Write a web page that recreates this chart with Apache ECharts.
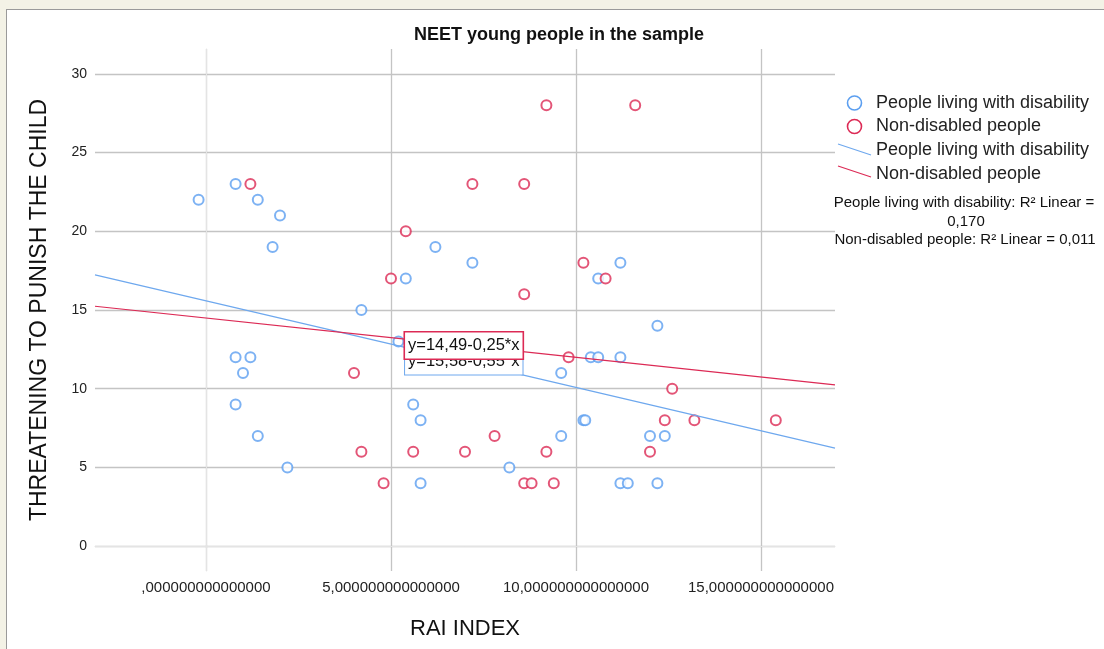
<!DOCTYPE html>
<html>
<head>
<meta charset="utf-8">
<script src="https://cdn.jsdelivr.net/npm/echarts@6/dist/echarts.min.js"></script>
<style>
  html, body { margin: 0; padding: 0; background: #f3f2e6; }
  #frame { position: absolute; left: 6px; top: 9px; width: 1120px; height: 660px;
           background: #fff; border-left: 1px solid #9a9a9a; border-top: 1px solid #9a9a9a; }
  #chart { position: absolute; left: 0; top: 0; width: 1104px; height: 649px; }
</style>
</head>
<body>
<div id="frame"></div>
<div id="chart"></div>
<script>
// RAI index (x) vs. "threatening to punish the child" score (y)
const disabilityPoints = [
  [-0.2, 22], [0.8, 23], [1.4, 22], [2.0, 21], [1.8, 19], [5.4, 17], [6.2, 19],
  [7.2, 18], [4.2, 15], [5.2, 13], [0.8, 12], [1.2, 12], [1.0, 11], [0.8, 9],
  [5.6, 9], [5.8, 8], [1.4, 7], [2.2, 5], [5.8, 4], [12.2, 14], [10.4, 12],
  [10.6, 12], [11.2, 12], [9.6, 11], [10.2, 8], [10.25, 8], [9.6, 7], [12.0, 7],
  [12.4, 7], [8.2, 5], [11.2, 4], [11.4, 4], [12.2, 4], [11.2, 18], [10.6, 17]
];
const nonDisabledPoints = [
  [1.2, 23], [5.4, 20], [5.0, 17], [7.2, 23], [9.2, 28], [11.6, 28], [8.6, 23],
  [10.2, 18], [10.8, 17], [8.6, 16], [4.0, 11], [4.2, 6], [5.6, 6], [7.0, 6],
  [4.8, 4], [7.8, 7], [9.8, 12], [12.6, 10], [12.4, 8], [13.2, 8], [15.4, 8],
  [9.2, 6], [12.0, 6], [8.6, 4], [8.8, 4], [9.4, 4]
];

// Linear fits: [intercept, slope]
const disabilityFit = [15.58, -0.55];
const nonDisabledFit = [14.49, -0.25];
const fitLabels = ['y=15,58-0,55*x', 'y=14,49-0,25*x'];
const r2Labels = ['People living with disability: R² Linear =', '0,170', 'Non-disabled people: R² Linear = 0,011'];

const xTickValues = [0, 5, 10, 15];
const xTickLabels = [',000000000000000', '5,000000000000000', '10,000000000000000', '15,000000000000000'];
const seriesNames = ['People living with disability', 'Non-disabled people'];

const X_MIN = -3, X_MAX = 17, Y_MIN = -1.58, Y_MAX = 31.58;
const LABEL_X = 5.38;   // where the equation boxes sit along the fit lines

const BLUE = '#5c9ff0';
const BLUE_LINE = '#6ea8ee';
const RED = '#dc2a55';
const FONT = "'Liberation Sans', Arial, sans-serif";

function fitLine(fit, labelText, color, borderWidth, dy) {
  const f = x => fit[0] + fit[1] * x;
  return [
    [X_MIN, f(X_MIN)],
    {
      value: [LABEL_X, f(LABEL_X)],
      label: {
        show: true, position: 'right', distance: 0, offset: [0, dy],
        formatter: labelText, fontFamily: FONT, fontSize: 16.5, color: '#111',
        backgroundColor: '#fff', borderColor: color, borderWidth: borderWidth,
        padding: [5, 3, 4, 3]
      }
    },
    [X_MAX, f(X_MAX)]
  ];
}

const chart = echarts.init(document.getElementById('chart'), null, { renderer: 'canvas' });

chart.setOption({
  backgroundColor: 'transparent',
  animation: false,
  title: {
    text: 'NEET young people in the sample',
    left: 554, top: 21, textAlign: 'center',
    textStyle: { fontFamily: FONT, fontSize: 18, fontWeight: 'bold', color: '#111' }
  },
  grid: { left: 95, right: 269, top: 49, bottom: 78, outerBoundsMode: 'none' },
  xAxis: {
    type: 'value', min: X_MIN, max: X_MAX, splitNumber: 4,
    name: 'RAI INDEX', nameLocation: 'middle', nameGap: 47,
    nameTextStyle: { fontFamily: FONT, fontSize: 22, color: '#111' },
    axisLine: { show: true, lineStyle: { color: '#e4e4e4', width: 1 } },
    axisTick: { show: false },
    axisLabel: {
      fontFamily: FONT, fontSize: 15, color: '#222', margin: 9,
      showMinLabel: false, showMaxLabel: false,
      formatter: v => { const i = xTickValues.indexOf(v); return i >= 0 ? xTickLabels[i] : ''; }
    },
    splitLine: { show: true, showMinLine: false, showMaxLine: false, lineStyle: { color: '#c4c4c4', width: 1.3 } }
  },
  yAxis: {
    type: 'value', min: Y_MIN, max: Y_MAX, splitNumber: 7,
    name: 'THREATENING TO PUNISH THE CHILD', nameLocation: 'middle', nameGap: 44,
    nameTextStyle: { fontFamily: FONT, fontSize: 23, color: '#111' },
    axisLine: { show: true, lineStyle: { color: '#e4e4e4', width: 1 } },
    axisTick: { show: false },
    axisLabel: {
      fontFamily: FONT, fontSize: 14, color: '#222', margin: 8,
      showMinLabel: false, showMaxLabel: false,
      formatter: v => (Number.isInteger(v) ? String(v) : '')
    },
    splitLine: { show: true, showMinLine: false, showMaxLine: false, lineStyle: { color: '#c4c4c4', width: 1.3 } }
  },
  series: [
    {
      name: seriesNames[0], type: 'scatter', data: disabilityPoints,
      symbol: 'emptyCircle', symbolSize: 10,
      itemStyle: { color: BLUE, borderColor: BLUE, borderWidth: 1.6 }
    },
    {
      name: seriesNames[1], type: 'scatter', data: nonDisabledPoints,
      symbol: 'emptyCircle', symbolSize: 10,
      itemStyle: { color: RED, borderColor: RED, borderWidth: 1.6 }
    },
    {
      name: seriesNames[0] + ' fit', type: 'line', z: 3,
      data: fitLine(disabilityFit, fitLabels[0], BLUE_LINE, 1, 14),
      symbol: 'circle', symbolSize: 0, showSymbol: true,
      lineStyle: { color: BLUE_LINE, width: 1.2 }, itemStyle: { color: BLUE_LINE }
    },
    {
      name: seriesNames[1] + ' fit', type: 'line', z: 4,
      data: fitLine(nonDisabledFit, fitLabels[1], RED, 1.6, 6.3),
      symbol: 'circle', symbolSize: 0, showSymbol: true,
      lineStyle: { color: RED, width: 1.2 }, itemStyle: { color: RED }
    }
  ],
  graphic: [
    // legend: scatter markers
    { type: 'circle', shape: { cx: 854.5, cy: 103, r: 7 }, style: { fill: '#fff', stroke: BLUE, lineWidth: 1.6 } },
    { type: 'text', x: 876, y: 103, style: { text: seriesNames[0], fontFamily: FONT, fontSize: 18, fill: '#222', verticalAlign: 'middle' } },
    { type: 'circle', shape: { cx: 854.5, cy: 126.5, r: 7 }, style: { fill: '#fff', stroke: RED, lineWidth: 1.6 } },
    { type: 'text', x: 876, y: 126.5, style: { text: seriesNames[1], fontFamily: FONT, fontSize: 18, fill: '#222', verticalAlign: 'middle' } },
    // legend: fit lines
    { type: 'line', shape: { x1: 838, y1: 144, x2: 871, y2: 155 }, style: { stroke: BLUE_LINE, lineWidth: 1.2 } },
    { type: 'text', x: 876, y: 150.5, style: { text: seriesNames[0], fontFamily: FONT, fontSize: 18, fill: '#222', verticalAlign: 'middle' } },
    { type: 'line', shape: { x1: 838, y1: 166, x2: 871, y2: 177 }, style: { stroke: RED, lineWidth: 1.2 } },
    { type: 'text', x: 876, y: 174, style: { text: seriesNames[1], fontFamily: FONT, fontSize: 18, fill: '#222', verticalAlign: 'middle' } },
    // R² notes
    { type: 'text', x: 964, y: 203, style: { text: r2Labels[0], fontFamily: FONT, fontSize: 15, fill: '#111', align: 'center', verticalAlign: 'middle' } },
    { type: 'text', x: 966, y: 221.5, style: { text: r2Labels[1], fontFamily: FONT, fontSize: 15, fill: '#111', align: 'center', verticalAlign: 'middle' } },
    { type: 'text', x: 965, y: 240, style: { text: r2Labels[2], fontFamily: FONT, fontSize: 15, fill: '#111', align: 'center', verticalAlign: 'middle' } }
  ]
});
</script>
</body>
</html>
